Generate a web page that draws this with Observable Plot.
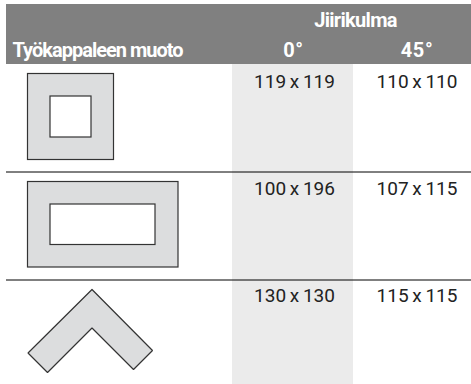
<!DOCTYPE html>
<html>
<head>
<meta charset="utf-8">
<script src="https://cdn.jsdelivr.net/npm/d3@7"></script>
<script src="https://cdn.jsdelivr.net/npm/@observablehq/plot@0.6"></script>
<style>
html,body{margin:0;padding:0;background:#fff;}
svg{display:block;}
svg g.cell text{word-spacing:-1px;}
svg g.hd text{letter-spacing:-1px;word-spacing:0;}
svg g.top text{letter-spacing:-0.7px;}
svg g.deg text{letter-spacing:0.6px;}
</style>
</head>
<body>
<div id="chart"></div>
<script>
const headerBand = [{x1: 6, x2: 471, y1: 4, y2: 64}];
const shadedColumn = [{x1: 232, x2: 353, y1: 64, y2: 384}];
const rowRules = [171.5, 279.5];
const ruleExtent = [6, 471];

const outerShapes = [
  {x1: 27.5, x2: 113.5, y1: 73.5, y2: 159.5},
  {x1: 27.5, x2: 178, y1: 181.5, y2: 267}
];
const innerShapes = [
  {x1: 50, x2: 91, y1: 96, y2: 137},
  {x1: 50, x2: 155, y1: 204, y2: 244.5}
];
const chevronX = [91.5, 152, 133, 91.5, 47, 27.5, 91.5];
const chevronY = [289, 350, 369, 327.5, 372, 352.5, 289];
const chevron = chevronX.map((x, i) => ({x, y: chevronY[i]}));

const titleLabel = [{t: "Työkappaleen muoto", x: 12, y: 56}];
const groupLabel = [{t: "Jiirikulma", x: 355, y: 26}];
const angleLabels = [
  {t: "0°", x: 293, y: 56},
  {t: "45°", x: 416.5, y: 56}
];
const col0 = ["119 x 119", "100 x 196", "130 x 130"];
const col45 = ["110 x 110", "107 x 115", "115 x 115"];
const rowBaselines = [87, 194, 301.5];
const cells = [
  ...col0.map((t, i) => ({t, x: 294, y: rowBaselines[i]})),
  ...col45.map((t, i) => ({t, x: 416.5, y: rowBaselines[i]}))
];

const font = "Roboto,sans-serif";
const plot = Plot.plot({
  width: 471, height: 384,
  margin: 0,
  x: {domain: [0, 471], range: [0, 471], axis: null},
  y: {domain: [0, 384], range: [0, 384], axis: null},
  style: {background: "#fff", fontFamily: font},
  marks: [
    Plot.rect(headerBand, {x1: "x1", x2: "x2", y1: "y1", y2: "y2", fill: "#808080"}),
    Plot.rect(shadedColumn, {x1: "x1", x2: "x2", y1: "y1", y2: "y2", fill: "#ebebeb"}),
    Plot.ruleY(rowRules, {x1: ruleExtent[0], x2: ruleExtent[1], stroke: "#000", strokeWidth: 1}),
    Plot.rect(outerShapes, {x1: "x1", x2: "x2", y1: "y1", y2: "y2", fill: "#dcddde", stroke: "#333", strokeWidth: 1.2}),
    Plot.rect(innerShapes, {x1: "x1", x2: "x2", y1: "y1", y2: "y2", fill: "#fff", stroke: "#333", strokeWidth: 1.2}),
    Plot.line(chevron, {x: "x", y: "y", fill: "#dcddde", stroke: "#333", strokeWidth: 1.2, strokeLinejoin: "miter"}),
    Plot.text(titleLabel, {x: "x", y: "y", text: "t", textAnchor: "start", lineAnchor: "bottom", fill: "#fff", fontWeight: "bold", fontSize: 20, className: "hd"}),
    Plot.text(groupLabel, {x: "x", y: "y", text: "t", lineAnchor: "bottom", fill: "#fff", fontWeight: "bold", fontSize: 20, className: "top"}),
    Plot.text(angleLabels, {x: "x", y: "y", text: "t", lineAnchor: "bottom", fill: "#fff", fontWeight: "bold", fontSize: 20, className: "deg"}),
    Plot.text(cells, {x: "x", y: "y", text: "t", lineAnchor: "bottom", fill: "#222", fontSize: 19, className: "cell"})
  ]
});
document.getElementById("chart").appendChild(plot);
</script>
</body>
</html>
